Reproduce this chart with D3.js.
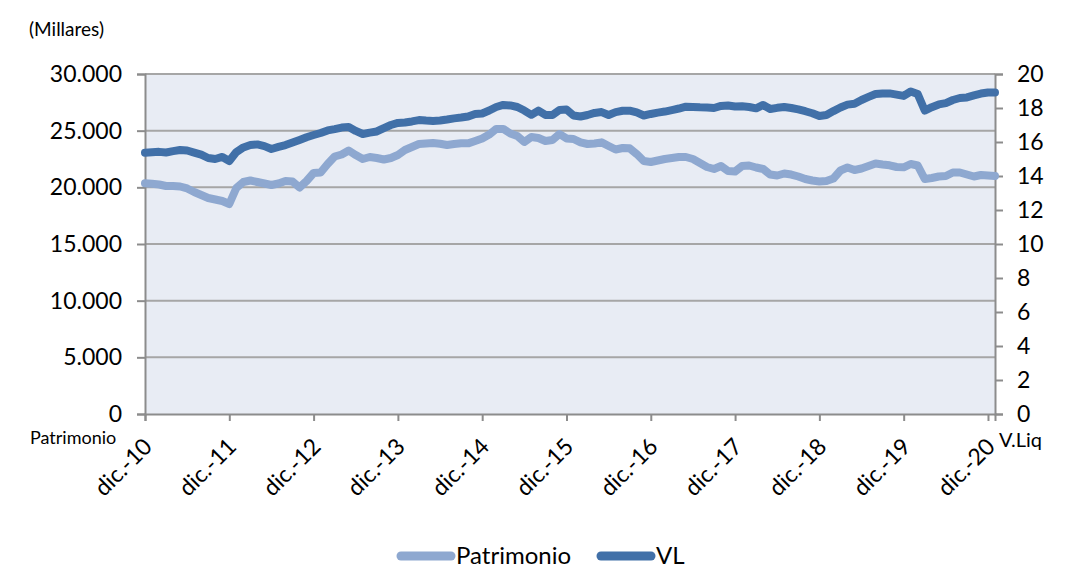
<!DOCTYPE html>
<html>
<head>
<meta charset="utf-8">
<script src="https://cdn.jsdelivr.net/npm/d3@7"></script>
<style>
  html, body { margin: 0; padding: 0; background: #ffffff; }
  svg { display: block; font-family: Lato, "Open Sans", sans-serif; }
</style>
</head>
<body>
<svg id="chart" width="1065" height="572"></svg>
<script>
// ---- data (monthly, dic.-10 .. ene.-21) ----
const months = d3.timeMonth.range(new Date(2010, 11, 1), new Date(2021, 1, 1));
const categories = months.map(d => d3.timeFormat("%Y-%m")(d));

const patrimonio = [
  20356, 20310, 20250, 20118, 20118, 20075, 19900, 19590, 19325, 19060,
  18925, 18795, 18530, 19940, 20470, 20600, 20470, 20340, 20206, 20340,
  20560, 20515, 19985, 20560, 21265, 21310, 22060, 22720, 22900, 23250,
  22850, 22500, 22676, 22590, 22456, 22590, 22853, 23294, 23560, 23824,
  23870, 23910, 23840, 23735, 23824, 23882, 23882, 24090, 24310, 24660,
  25150, 25150, 24750, 24530, 24000, 24440, 24350, 24090, 24176, 24706,
  24310, 24265, 23970, 23824, 23870, 23970, 23650, 23340, 23470, 23440,
  22940, 22320, 22235, 22370, 22500, 22590, 22676, 22676, 22500, 22150,
  21795, 21617, 21880, 21440, 21400, 21880, 21925, 21750, 21617, 21130,
  21045, 21220, 21130, 20955, 20735, 20600, 20515, 20560, 20780, 21485,
  21750, 21530, 21660, 21880, 22100, 22015, 21945, 21795, 21765, 22060,
  21925, 20735, 20823, 20955, 21000, 21310, 21310, 21130, 20955, 21088,
  21045, 21000
];

const vl = [
  15.37, 15.40, 15.42, 15.38, 15.46, 15.53, 15.50, 15.38, 15.26, 15.06,
  15.00, 15.12, 14.88, 15.41, 15.68, 15.82, 15.86, 15.76, 15.59, 15.71,
  15.82, 15.97, 16.12, 16.28, 16.41, 16.53, 16.68, 16.76, 16.85, 16.88,
  16.65, 16.47, 16.55, 16.62, 16.82, 17.00, 17.12, 17.15, 17.21, 17.29,
  17.26, 17.24, 17.26, 17.32, 17.39, 17.44, 17.50, 17.65, 17.68, 17.85,
  18.06, 18.18, 18.15, 18.06, 17.85, 17.60, 17.85, 17.59, 17.59, 17.88,
  17.91, 17.56, 17.50, 17.59, 17.71, 17.76, 17.59, 17.76, 17.84, 17.84,
  17.74, 17.56, 17.65, 17.73, 17.79, 17.88, 17.97, 18.08, 18.06, 18.04,
  18.03, 18.00, 18.12, 18.15, 18.09, 18.10, 18.06, 17.98, 18.18, 17.94,
  18.01, 18.06, 18.00, 17.92, 17.81, 17.69, 17.53, 17.59, 17.82, 18.03,
  18.20, 18.25, 18.47, 18.65, 18.82, 18.85, 18.86, 18.79, 18.71, 18.97,
  18.82, 17.85, 18.05, 18.21, 18.29, 18.47, 18.59, 18.62, 18.74, 18.85,
  18.91, 18.91
];

const tickIndex = [0, 12, 24, 36, 48, 60, 72, 84, 96, 108, 120];
const tickLabels = ["dic.-10", "dic.-11", "dic.-12", "dic.-13", "dic.-14", "dic.-15",
                    "dic.-16", "dic.-17", "dic.-18", "dic.-19", "dic.-20"];
const leftTicks = [0, 5000, 10000, 15000, 20000, 25000, 30000];
const rightTicks = [0, 2, 4, 6, 8, 10, 12, 14, 16, 18, 20];

// ---- layout ----
const L = 145, R = 995, T = 74, B = 414;
const svg = d3.select("#chart");

const x = d3.scalePoint().domain(categories).range([L, R]).padding(0);
const yL = d3.scaleLinear().domain([0, 30000]).range([B, T]);
const yR = d3.scaleLinear().domain([0, 20]).range([B, T]);

const colPat = "#8ea8d0";
const colVL = "#4170a8";
const gridCol = "#a6a6a6";
const axisCol = "#8c8c8c";

// plot background
svg.append("rect").attr("x", L).attr("y", T).attr("width", R - L).attr("height", B - T)
  .attr("fill", "#e8ecf4");

// gridlines
svg.append("g").selectAll("line").data(leftTicks.filter(d => d > 0)).join("line")
  .attr("x1", L).attr("x2", R).attr("y1", d => yL(d)).attr("y2", d => yL(d))
  .attr("stroke", gridCol).attr("stroke-width", 2);

const fmt = d3.formatLocale({decimal: ",", thousands: ".", grouping: [3], currency: ["", "€"]}).format(",.0f");

// left axis
const gL = svg.append("g").attr("transform", `translate(${L},0)`)
  .call(d3.axisLeft(yL).tickValues(leftTicks).tickSize(8).tickPadding(15).tickFormat(d => fmt(d)));
gL.select(".domain").attr("stroke", axisCol).attr("stroke-width", 2);
gL.selectAll(".tick line").attr("stroke", axisCol).attr("stroke-width", 2);
gL.selectAll(".tick text").attr("font-size", 23).attr("fill", "#000").attr("font-family", "Lato");

// right axis
const gR = svg.append("g").attr("transform", `translate(${R},0)`)
  .call(d3.axisRight(yR).tickValues(rightTicks).tickSize(8).tickPadding(14).tickFormat(d3.format("d")));
gR.select(".domain").attr("stroke", axisCol).attr("stroke-width", 2);
gR.selectAll(".tick line").attr("stroke", axisCol).attr("stroke-width", 2);
gR.selectAll(".tick text").attr("font-size", 23).attr("fill", "#000").attr("font-family", "Lato");

// bottom axis
const gB = svg.append("g").attr("transform", `translate(0,${B})`)
  .call(d3.axisBottom(x).tickValues(tickIndex.map(i => categories[i])).tickSize(7)
    .tickFormat((d, i) => tickLabels[i]));
gB.select(".domain").attr("stroke", axisCol).attr("stroke-width", 2);
gB.selectAll(".tick line").attr("stroke", axisCol).attr("stroke-width", 2);
gB.selectAll(".tick text")
  .attr("font-size", 23).attr("fill", "#000").attr("font-family", "Lato")
  .attr("text-anchor", "end").attr("dy", null).attr("y", 0)
  .attr("transform", "translate(8,34) rotate(-45)");

// lines
const linePat = d3.line().x((d, i) => x(categories[i])).y(d => yL(d));
const lineVL = d3.line().x((d, i) => x(categories[i])).y(d => yR(d));
svg.append("path").datum(patrimonio).attr("d", linePat)
  .attr("fill", "none").attr("stroke", colPat).attr("stroke-width", 8)
  .attr("stroke-linejoin", "round").attr("stroke-linecap", "round");
svg.append("path").datum(vl).attr("d", lineVL)
  .attr("fill", "none").attr("stroke", colVL).attr("stroke-width", 8)
  .attr("stroke-linejoin", "round").attr("stroke-linecap", "round");

// axis titles
svg.append("text").attr("x", 29).attr("y", 36).attr("font-size", 19).text("(Millares)");
svg.append("text").attr("x", 30).attr("y", 444).attr("font-size", 18).text("Patrimonio");
svg.append("text").attr("x", 999).attr("y", 447).attr("font-size", 20).text("V.Liq");

// legend
const legend = [
  {name: "Patrimonio", color: colPat, x: 397},
  {name: "VL", color: colVL, x: 597}
];
const lg = svg.append("g");
legend.forEach(d => {
  lg.append("line").attr("x1", d.x + 4).attr("x2", d.x + 54).attr("y1", 556).attr("y2", 556)
    .attr("stroke", d.color).attr("stroke-width", 9).attr("stroke-linecap", "round");
  lg.append("text").attr("x", d.x + 59).attr("y", 564).attr("font-size", 24).text(d.name);
});
</script>
</body>
</html>
